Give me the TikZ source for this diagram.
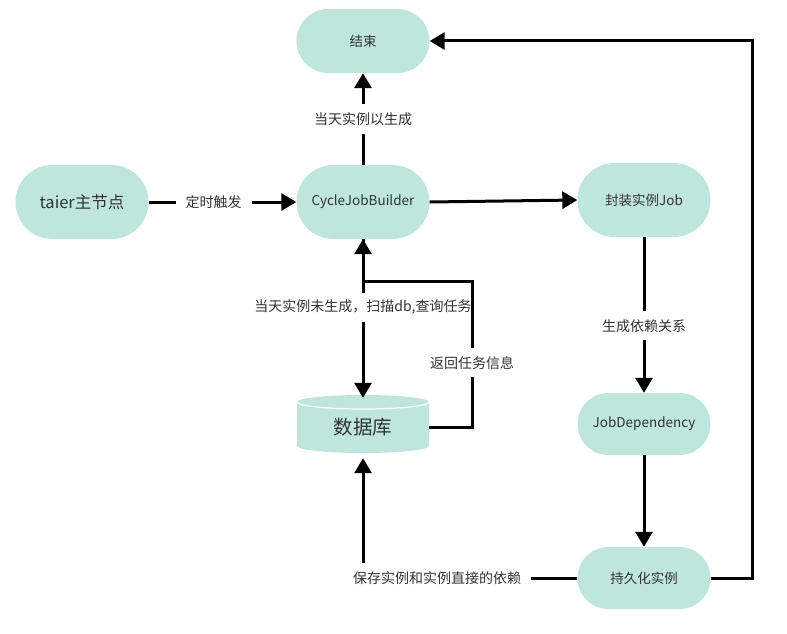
\documentclass[tikz,border=0pt]{standalone}
\usepackage{fontspec}
\setmainfont{Noto Sans CJK SC}
\usetikzlibrary{arrows.meta}
\definecolor{boxfill}{HTML}{BEE6DC}
\definecolor{txt}{HTML}{333333}
\begin{document}
\begin{tikzpicture}[x=1pt,y=-1pt,
  proc/.style={fill=boxfill, draw=none, minimum width=133pt, minimum height=#1pt, rounded corners=#1pt/2, text=txt, font=\fontsize{13.5}{15}\selectfont, inner sep=0pt},
  proc/.default=64,
  conn/.style={line width=3pt, draw=black, -{Triangle[width=17pt,length=15pt]}},
  lbl/.style={fill=white, text=txt, font=\fontsize{14}{16}\selectfont, inner xsep=10pt, inner ysep=8pt}
]
\useasboundingbox (0,0) rectangle (787,634);

\node[proc=64] (end) at (363,41) {结束};
\node[proc=74, font=\fontsize{16.5}{18}\selectfont] (taier) at (82,202) {taier主节点};
\node[proc=74] (cjb) at (363,202) {CycleJobBuilder};
\node[proc=74] (job) at (644,200) {封装实例Job};
\node[proc=62] (dep) at (644,424) {JobDependency};
\node[proc=62] (persist) at (644,578) {持久化实例};

% database cylinder
\fill[boxfill] (297,402) arc[start angle=180, end angle=360, x radius=66pt, y radius=7pt]
  -- (429,402) -- (429,446) arc[start angle=0, end angle=-180, x radius=66pt, y radius=7pt] -- cycle;
\fill[boxfill] (363,402) ellipse[x radius=66pt, y radius=7pt];
\draw[white, line width=1.2pt] (297,402) arc[start angle=180, end angle=0, x radius=66pt, y radius=-7pt];
\node[minimum width=132pt, minimum height=58pt, inner sep=0pt, text=txt, font=\fontsize{19.5}{21}\selectfont] (db) at (363,427) {数据库};

% connectors
\draw[conn] (cjb.north) -- node[lbl, pos=0.5]{当天实例以生成} (end.south);
\draw[conn] (taier.east) -- node[lbl, pos=0.44]{定时触发} (cjb.west);
\draw[conn] (cjb.east) -- (job.west);
\draw[conn] (job.south) -- node[lbl, pos=0.57]{生成依赖关系} (dep.north);
\draw[conn] (dep.south) -- (persist.north);
\coordinate (rtop) at (752,41);
\draw[conn] (persist.east) -| (rtop) -- (end.east);
\draw[conn] (persist.west) -| node[lbl, pos=0.327]{保存实例和实例直接的依赖} ([yshift=-2pt]db.south);
\draw[conn] (cjb.south) -- node[lbl, pos=0.43, inner xsep=2pt, inner ysep=7pt]{当天实例未生成，扫描db,查询任务} (db.north);
\coordinate (rt) at (472,281);
\coordinate (lt) at (363,281);
\draw[conn] (db.east) -| node[lbl, pos=0.72, inner xsep=3pt]{返回任务信息} (rt) -- (lt) -- (cjb.south);
\end{tikzpicture}
\end{document}
